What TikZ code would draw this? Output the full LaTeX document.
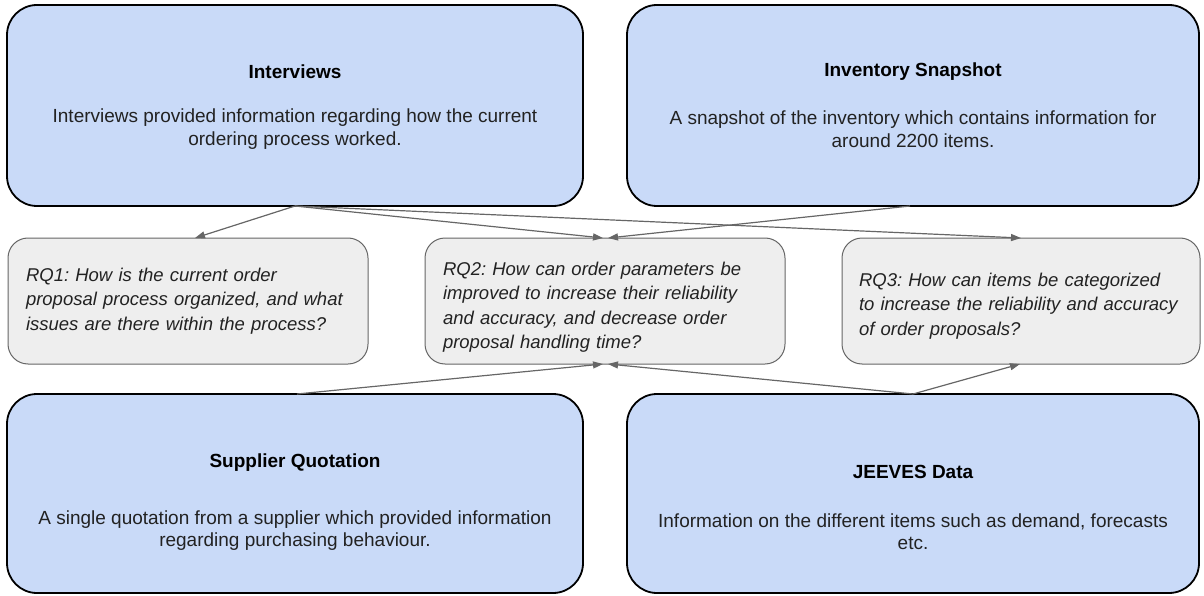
\documentclass[tikz,border=0pt]{standalone}
\usepackage{fontspec}
\setmainfont{Liberation Sans}
\usetikzlibrary{arrows.meta}
\definecolor{srcblue}{HTML}{C9DAF8}
\definecolor{rqfill}{HTML}{EEEEEE}
\definecolor{rqline}{HTML}{666666}
\definecolor{txt}{HTML}{222222}
\frenchspacing
\hbadness=10000 \hfuzz=100pt
\newcommand{\lift}[1]{\rule{0pt}{#1}}
\begin{document}
\begin{tikzpicture}[x=1pt,y=-1pt,
  srcbox/.style={draw=black, line width=1.8pt, fill=srcblue, rounded corners=30pt, inner sep=0pt, outer sep=0pt},
  rqbox/.style={draw=rqline, line width=1pt, fill=rqfill, rounded corners=20pt, inner sep=0pt, outer sep=0pt,
     minimum width=360pt, minimum height=126pt, text width=324pt, align=left,
     font=\fontsize{18.5}{24.4}\selectfont\itshape, text=txt},
  ttl/.style={font=\fontsize{19}{22}\selectfont\bfseries, text=black, inner sep=0pt},
  bdy/.style={font=\fontsize{19}{22.5}\selectfont, text=txt, align=center, inner sep=0pt},
  conn/.style={draw=rqline, line width=1.2pt, -{Triangle[length=10pt,width=7pt]}}
]
\useasboundingbox (0,0) rectangle (1204,596);
% source boxes
\node[srcbox, minimum width=576pt, minimum height=201pt] (int) at (295,105.5) {};
\node[srcbox, minimum width=572pt, minimum height=201pt] (inv) at (913,105.5) {};
\node[srcbox, minimum width=576pt, minimum height=199pt] (sup) at (295,493.5) {};
\node[srcbox, minimum width=572pt, minimum height=199pt] (jee) at (913,493.5) {};
% texts of source boxes
\node[ttl] (intT) at (295,72) {Interviews};
\node[bdy] (intB) at (295,129) {Interviews provided information regarding how the current\\ordering process worked.};
\node[ttl] (invT) at (913,72) {Inventory Snapshot};
\node[bdy] (invB) at (913,129) {A snapshot of the inventory which contains information for\\around 2200 items.};
\node[ttl] (supT) at (295,463) {Supplier Quotation};
\node[bdy] (supB) at (295,530.5) {A single quotation from a supplier which provided information\\regarding purchasing behaviour.};
\node[ttl] (jeeT) at (913,472) {JEEVES Data};
\node[bdy] (jeeB) at (913,531.5) {Information on the different items such as demand, forecasts\\etc.};
% research questions
\node[rqbox] (rq1) at (188,301) {RQ1: How is the current order\\proposal process organized, and what\\issues are there within the process?};
\node[rqbox] (rq2) at (605,301) {\lift{25.5pt}RQ2: How can order parameters be\\improved to increase their reliability\\and accuracy, and decrease order\\proposal handling time?};
\node[rqbox, minimum width=358pt] (rq3) at (1021,301) {\lift{23.5pt}RQ3: How can items be categorized\\to increase the reliability and accuracy\\of order proposals?};
% connectors
\draw[conn] (int.south) -- ([xshift=7pt]rq1.north);
\draw[conn] (int.south) -- ([xshift=-2pt]rq2.north);
\draw[conn] (int.south) -- (rq3.north);
\draw[conn] ([xshift=-3pt]inv.south) -- ([xshift=3pt]rq2.north);
\draw[conn] ([xshift=2pt]sup.north) -- ([xshift=-2pt]rq2.south);
\draw[conn] (jee.north) -- ([xshift=3pt]rq2.south);
\draw[conn] (jee.north) -- ([xshift=-1pt]rq3.south);
\end{tikzpicture}
\end{document}
